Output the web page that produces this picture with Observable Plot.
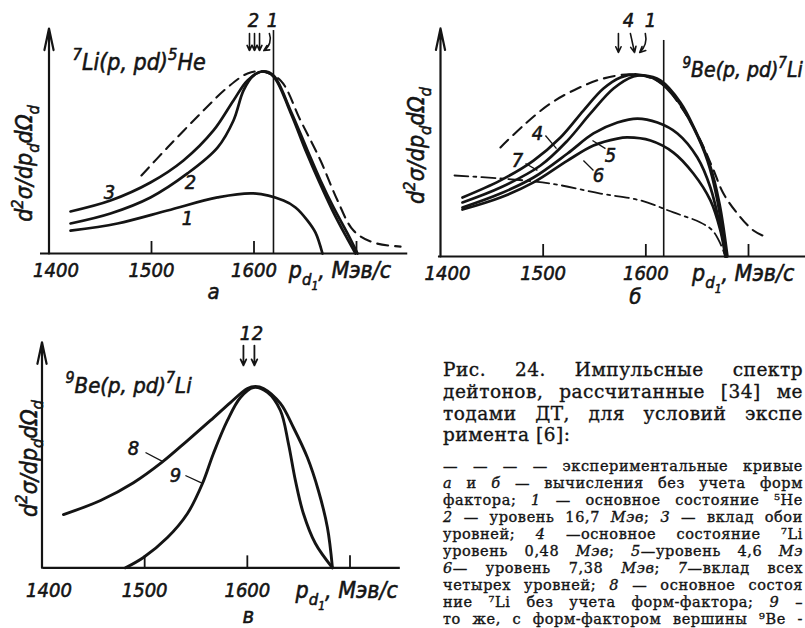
<!DOCTYPE html>
<html><head><meta charset="utf-8">
<script src="https://cdn.jsdelivr.net/npm/d3@7"></script>
<script src="https://cdn.jsdelivr.net/npm/@observablehq/plot@0.6"></script>
<style>
html,body{margin:0;padding:0;background:#fff;}
body{width:805px;height:628px;overflow:hidden;position:relative;}
.panel{position:absolute;}
.cl{position:absolute;left:443px;white-space:nowrap;font-family:"DejaVu Serif","Liberation Serif",serif;color:#141414;-webkit-text-stroke:0.35px #141414;}
.cl i{font-style:italic;}
</style></head><body>
<div id="pa" class="panel" style="left:0;top:0;width:410px;height:320px"></div>
<div id="pb" class="panel" style="left:400px;top:0;width:405px;height:320px"></div>
<div id="pc" class="panel" style="left:0;top:320px;width:420px;height:308px"></div>
<div id="cap"></div>
<script>
// ---------------- DATA ----------------
const tickValues = [1500, 1600, 1700];
const tickLabels = [1400, 1500, 1600];
const xTitle = "p_{d_{1}}, Мэв/с";
const yTitle = "d^{2}σ/dp_{d}dΩ_{d}";

// panel а: 7Li(p,pd)5He
const aTitle = "^{7}Li(p, pd)^{5}He";
const aCurve1 = [[1421,12.6],[1466.8,16.5],[1515.6,23.6],[1564.4,30.8],[1599.5,33.0],[1628.8,29.1],[1640.5,25.3],[1652.2,18.1],[1660,11.5],[1666.8,0]];
const aCurve2 = [[1421,16.5],[1460,22.0],[1499,30.8],[1535.1,44.0],[1564.4,58.2],[1580,73.1],[1589.8,89.6],[1599.5,97.8],[1608.3,100],[1619,97.3],[1635.6,77.5],[1651.2,55.5],[1663.9,39.0],[1676.6,23.6],[1689.3,9.9],[1699,0]];
const aCurve3 = [[1421,23.1],[1460,29.1],[1499,39.0],[1531.2,51.1],[1560.5,67.6],[1580,84.1],[1593.7,95.1],[1608.3,100],[1619,97.8],[1635.6,78.6],[1652.2,56.6],[1664.9,40.1],[1677.6,25.3],[1691.2,11.0],[1701,0]];
const aExperiment = [[1490.2,42.9],[1515.6,58.2],[1547.8,76.9],[1574.1,91.2],[1593.7,98.9],[1608.3,100],[1625.9,95.1],[1645.4,73.1],[1664.9,51.1],[1681.5,29.1],[1697.1,12.6],[1716.6,6.0],[1743,3.8]];
const aVertical = [1619];
const aMarkers = [1595.6, 1600.5, 1605.4];
const aMarkerLabels = [{x:1599.5, t:"2"}, {x:1618, t:"1"}];
const aCurveLabels = [{x:1459,y:33.5,t:"3"},{x:1538,y:39,t:"2"},{x:1535,y:19.2,t:"1"}];

// panel б: 9Be(p,pd)7Li
const bTitle = "^{9}Be(p, pd)^{7}Li";
const bCurve4 = [[1421.4,32.4],[1458.4,41.8],[1490.6,52.7],[1516.8,65.4],[1539.2,80.2],[1558.7,92.3],[1575.3,98.4],[1591.8,100],[1611.3,96.7],[1630.8,85.7],[1646.3,70.9],[1660,52.7],[1669.7,30.8],[1677.5,0]];
const bCurve7 = [[1421.4,29.7],[1458.4,37.9],[1497.4,50.0],[1523.7,63.7],[1546.1,78.6],[1568.5,92.3],[1587.9,98.9],[1597.7,99.5],[1614.2,96.7],[1633.7,84.6],[1648.3,69.2],[1661.9,51.1],[1671.7,29.1],[1679.5,0]];
const bCurve5 = [[1421.4,26.9],[1458.4,34.6],[1490.6,43.4],[1523.7,56.6],[1549,67.6],[1572.3,73.6],[1591.8,75.8],[1611.3,73.6],[1630.8,67.6],[1650.2,54.4],[1662.9,37.9],[1672.6,15.9],[1678.5,0]];
const bCurve6 = [[1421.4,25.8],[1458.4,32.4],[1490.6,40.7],[1523.7,52.7],[1549,61.0],[1572.3,64.8],[1582.1,65.4],[1604.5,63.7],[1626.9,57.1],[1646.3,45.6],[1662.9,30.8],[1672.6,14.3],[1677.5,0]];
const bDashDot = [[1413.6,44.5],[1458.4,42.9],[1507.1,40.1],[1555.8,34.6],[1594.7,30.8],[1626.9,24.2],[1653.2,18.7],[1664.9,14.3],[1672.6,7.1],[1677.5,0]];
const bExperiment = [[1458.4,59.9],[1480.8,72.0],[1507.1,84.1],[1533.4,92.3],[1558.7,97.8],[1587.9,100],[1614.2,95.6],[1636.6,80.2],[1653.2,63.7],[1664.9,48.9],[1675.6,34.6],[1689.2,23.6],[1704.8,14.3],[1718.4,10.4]];
const bVertical = [1617.4];
const bMarkerLabels = [{x:1583, t:"4"}, {x:1604.5, t:"1"}];
const bCurveLabels = [{x:1494.5,y:67.6,t:"4"},{x:1475,y:52.7,t:"7"},{x:1565.5,y:55.5,t:"5"},{x:1553.8,y:44.5,t:"6"}];
const bLeaders = [[1502.2,66.5,1513,59.3],[1482.8,51.1,1494.4,47.3],[1560.7,59.3,1548,63.7],[1549,47.3,1539.2,52.7]];

// panel в: 9Be(p,pd)7Li, form factor
const cTitle = "^{9}Be(p, pd)^{7}Li";
const cCurve8 = [[1420.9,29.4],[1457,37.2],[1489.1,47.0],[1517.3,58.5],[1541.7,70.3],[1564.1,81.4],[1583.5,91.3],[1600.1,99.1],[1607.9,100.2],[1615.7,99.1],[1632.2,90.8],[1644.9,77.5],[1658.5,60.9],[1669.2,42.7],[1678,22.3],[1682.9,0]];
const cCurve9 = [[1481.3,0],[1498.8,5.7],[1522.2,16.7],[1541.7,30.0],[1556.3,46.6],[1567,63.2],[1580.6,81.4],[1593.3,94.1],[1606,99.6],[1619.6,96.9],[1632.2,86.9],[1640,68.7],[1646.8,48.3],[1654.6,30.0],[1666.3,13.4],[1682.9,0]];
const cMarkers = [1596.2, 1606.9];
const cMarkerLabels = [{x:1598.2, t:"1"}, {x:1609.9, t:"2"}];
const cCurveLabels = [{x:1489.1,y:65.9,t:"8"},{x:1530,y:51,t:"9"}];
const cLeaders = [[1500.8,63.7,1517.3,58.8],[1539.7,51,1556.3,46.6]];

// caption (the page cuts the column at its right edge)
const capHead = [
  "Рис. 24. Импульсные спектр",
  "дейтонов, рассчитанные [34] ме",
  "тодами ДТ, для условий экспе",
  "римента [6]:"
];
const capBody = [
  "— — — — экспериментальные кривые",
  "<i>а</i> и <i>б</i> — вычисления без учета форм",
  "фактора; <i>1</i> — основное состояние ⁵He",
  "<i>2</i> — уровень 16,7 <i>Мэв</i>; <i>3</i> — вклад обои",
  "уровней; <i>4</i> —основное состояние ⁷Li",
  "уровень 0,48 <i>Мэв</i>; <i>5</i>—уровень 4,6 <i>Мэ</i>",
  "<i>6</i>— уровень 7,38 <i>Мэв</i>; <i>7</i>—вклад всех",
  "четырех уровней; <i>8</i> — основное состоя",
  "ние ⁷Li без учета форм-фактора; <i>9</i> –",
  "то же, с форм-фактором вершины ⁹Be -"
];

// ---------------- DRAWING ----------------
const FONT = '"DejaVu Sans Condensed","Liberation Sans Narrow","DejaVu Sans",sans-serif';
const INK = "#141414";

function parseRich(str){
  const segs=[]; let i=0;
  function walk(off, sc, inner){
    let buf="";
    const flush=()=>{ if(buf){segs.push({t:buf,off,sc}); buf="";} };
    while(i<str.length){
      const c=str[i];
      if((c==="^"||c==="_") && str[i+1]==="{"){
        flush(); i+=2;
        walk(off + (c==="^" ? -0.42 : 0.3)*sc, sc*0.72, true);
      } else if(c==="}" && inner){ i++; flush(); return; }
      else { buf+=c; i++; }
    }
    flush();
  }
  walk(0,1,false);
  return segs;
}
function richify(svg){
  svg.querySelectorAll("text").forEach(t=>{
    const s=t.textContent;
    if(!/[\^_]\{/.test(s)) return;
    const F=parseFloat(getComputedStyle(t).fontSize)||16;
    const segs=parseRich(s);
    while(t.firstChild) t.removeChild(t.firstChild);
    let cur=0;
    segs.forEach(g=>{
      const ts=document.createElementNS("http://www.w3.org/2000/svg","tspan");
      const target=g.off*F;
      ts.setAttribute("dy",(target-cur).toFixed(2)+"px");
      ts.setAttribute("font-size",(g.sc*F).toFixed(2)+"px");
      ts.textContent=g.t;
      t.appendChild(ts);
      cur=target;
    });
  });
}

const TXT = {fill:INK, stroke:INK, strokeWidth:0.55};
function frame(o){
  return [
    Plot.ruleY([0], {x1:o.xStart, x2:o.xEnd, stroke:INK, strokeWidth:2.2}),
    Plot.arrow([0], {x1:1400, x2:1400, y1:0, y2:o.yTop, stroke:INK, strokeWidth:2.2, headLength:15, headAngle:24}),
    Plot.ruleX(tickValues, {y1:0, y2:6.6, stroke:INK, strokeWidth:1.8}),
    Plot.text(tickLabels.slice(0,1), {x:d=>d, y:o.tickY, text:d=>String(d), dx:7, fontSize:20, ...TXT}),
    Plot.text(tickLabels.slice(1), {x:d=>d, y:o.tickY, text:d=>String(d), fontSize:20, ...TXT}),
    Plot.text([xTitle], {x:o.titleX, y:o.tickY, text:d=>d, textAnchor:"start", fontSize:23, ...TXT}),
    Plot.text([o.letter], {x:o.letterX, y:o.letterY, text:d=>d, fontSize:22, ...TXT}),
    Plot.text([yTitle], {x:o.ylabX, y:o.ylabY, text:d=>d, rotate:-90, fontSize:23, ...TXT})
  ];
}
const line = (d, w=2.7, dash=null) => Plot.line(d, {curve:"catmull-rom", stroke:INK, strokeWidth:w, strokeDasharray:dash, strokeLinecap:"round"});
const labels = (d, size=20) => Plot.text(d, {x:"x", y:"y", text:"t", fontSize:size, ...TXT});

function makePanel(id, cfg){
  const svg = Plot.plot({
    width: cfg.width, height: cfg.height,
    x: {domain:[1400,1700], range:cfg.xRange, axis:null},
    y: {domain:[0,100], range:cfg.yRange, axis:null},
    style: {fontFamily:FONT, fontStyle:"italic", background:"transparent", overflow:"visible", color:INK},
    marks: cfg.marks
  });
  document.getElementById(id).appendChild(svg);
  richify(svg);
}

// а
makePanel("pa", {
  width:410, height:320, xRange:[48.5,356], yRange:[253,71],
  marks:[
    ...frame({xStart:1391.7, xEnd:1750, yTop:123.6, tickY:-9.3, titleX:1634, letter:"а", letterX:1560.5, letterY:-21.4, ylabX:1376.5, ylabY:49.5}),
    Plot.ruleX(aVertical, {y1:0, y2:122.5, stroke:INK, strokeWidth:1.6}),
    line(aExperiment, 2.1, "11,7"),
    line(aCurve1), line(aCurve2), line(aCurve3),
    Plot.arrow(aMarkers, {x1:d=>d, x2:d=>d, y1:120.9, y2:111.5, stroke:INK, strokeWidth:1.6, headLength:6, headAngle:50}),
    Plot.arrow([0], {x1:1615, x2:1609.5, y1:120.9, y2:111.5, bend:40, stroke:INK, strokeWidth:1.6, headLength:6, headAngle:50}),
    Plot.text(aMarkerLabels, {x:"x", y:128, text:"t", fontSize:20, ...TXT}),
    labels(aCurveLabels),
    Plot.text([aTitle], {x:1422.9, y:104.9, text:d=>d, textAnchor:"start", fontSize:23, ...TXT})
  ]
});

// б
makePanel("pb", {
  width:405, height:320, xRange:[40,348], yRange:[256,74],
  marks:[
    ...frame({xStart:1398, xEnd:1756, yTop:125.3, tickY:-9.3, titleX:1645, letter:"б", letterX:1589.9, letterY:-22.5, ylabX:1377, ylabY:61}),
    Plot.ruleX(bVertical, {y1:0, y2:118.7, stroke:INK, strokeWidth:1.6}),
    line(bExperiment, 2.1, "11,7"),
    line(bDashDot, 1.8, "14,5,3,5"),
    line(bCurve6), line(bCurve5), line(bCurve7), line(bCurve4),
    Plot.link(bLeaders, {x1:d=>d[0], y1:d=>d[1], x2:d=>d[2], y2:d=>d[3], stroke:INK, strokeWidth:1.3}),
    labels(bCurveLabels),
    Plot.arrow([0], {x1:1573.3, x2:1573.3, y1:122.5, y2:112.1, stroke:INK, strokeWidth:1.6, headLength:6, headAngle:50}),
    Plot.arrow([0], {x1:1585, x2:1589, y1:122.5, y2:112.1, stroke:INK, strokeWidth:1.6, headLength:6, headAngle:50}),
    Plot.arrow([0], {x1:1599.5, x2:1594, y1:122.5, y2:112.1, bend:30, stroke:INK, strokeWidth:1.6, headLength:6, headAngle:50}),
    Plot.text(bMarkerLabels, {x:"x", y:129.7, text:"t", fontSize:20, ...TXT}),
    Plot.text([bTitle], {x:1635.6, y:102.2, text:d=>d, textAnchor:"start", fontSize:21, ...TXT})
  ]
});

// в
makePanel("pc", {
  width:420, height:308, xRange:[41.5,349.5], yRange:[247.3,66.3],
  marks:[
    ...frame({xStart:1401, xEnd:1749, yTop:124.6, tickY:-12.5, titleX:1647, letter:"в", letterX:1601, letterY:-26.5, ylabX:1387.5, ylabY:60.4}),
    line(cCurve8, 2.9), line(cCurve9, 2.9),
    Plot.link(cLeaders, {x1:d=>d[0], y1:d=>d[1], x2:d=>d[2], y2:d=>d[3], stroke:INK, strokeWidth:1.3}),
    labels(cCurveLabels),
    Plot.arrow(cMarkers, {x1:d=>d, x2:d=>d, y1:122.8, y2:111.8, stroke:INK, strokeWidth:1.8, headLength:6, headAngle:50}),
    Plot.text(cMarkerLabels, {x:"x", y:129.4, text:"t", fontSize:20, ...TXT}),
    Plot.text([cTitle], {x:1422.9, y:100.7, text:d=>d, textAnchor:"start", fontSize:22, ...TXT})
  ]
});

// caption
const cap = document.getElementById("cap");
const COLW = 360;
function addLine(html, top, size, lh, ls, justify){
  const d = document.createElement("div");
  d.className = "cl";
  d.style.top = top + "px";
  d.style.fontSize = size + "px";
  d.style.lineHeight = lh + "px";
  d.style.letterSpacing = ls + "px";
  d.innerHTML = html;
  cap.appendChild(d);
  if (justify) {
    const w = d.getBoundingClientRect().width;
    const spaces = (d.textContent.match(/ /g) || []).length;
    if (spaces) d.style.wordSpacing = ((COLW - w) / spaces).toFixed(2) + "px";
  }
}
capHead.forEach((s,i)=>addLine(s, 370 - 10.85 + i*21.7, 18.5, 21.7, 0.5, i < capHead.length-1));
capBody.forEach((s,i)=>addLine(s, 466 - 8.5 + i*17, 14.5, 17, 0.6, true));
</script>
</body></html>
